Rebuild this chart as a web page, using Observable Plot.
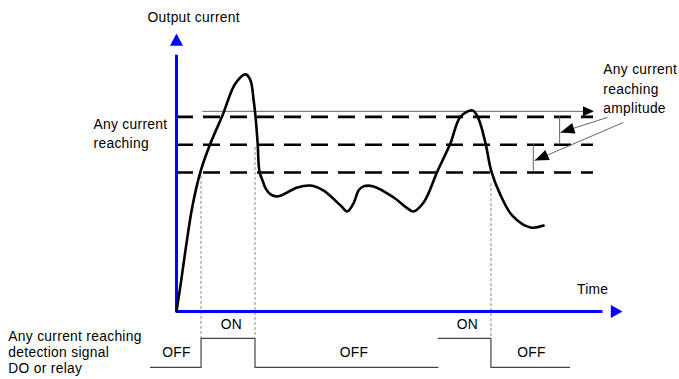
<!DOCTYPE html>
<html><head><meta charset="utf-8">
<script src="https://cdn.jsdelivr.net/npm/d3@7"></script>
<script src="https://cdn.jsdelivr.net/npm/@observablehq/plot@0.6"></script>
<style>
html,body{margin:0;padding:0;background:#fff;}
#chart svg{display:block;overflow:visible;}
</style></head><body><div id="chart"></div>
<script>
// ---- data (time units 0..100, current units 0..100) ----
const curveT = [0, 0.9, 2.0, 3.6, 5.4, 7.6, 10.3, 13.2, 15.5, 16.6, 17.3, 17.7, 18.2, 18.6, 19.3, 20.0, 21.1, 22.7, 27.1, 30.0, 33.0, 36.8, 38.3, 39.7, 40.8, 41.9, 44.2, 48.7, 51.8, 53.1, 55.4, 58.5, 61.4, 63.7, 66.4, 67.7, 69.3, 70.6, 72.7, 75.3, 79.4, 82.3];
const curveC = [0, 9.4, 21.9, 38.1, 50.4, 60.4, 70.5, 82.0, 85.3, 83.1, 75.9, 70.5, 60.4, 50.4, 47.1, 44.2, 42.1, 41.4, 44.6, 45.3, 43.5, 38.1, 36.0, 38.9, 43.5, 45.0, 45.0, 41.0, 37.1, 36.0, 39.2, 50.4, 60.4, 70.1, 72.3, 69.4, 60.4, 50.4, 41.7, 34.5, 30.2, 30.9];

const thresholdLevels = [50, 60, 70];
const thresholdEnd = 93.5;
const amplitudeLevel = 72;
const amplitudeSpan = [5.9, 93.6];

// amplitude brackets between threshold levels
const bracketT = [85.9, 80.0];
const bracketLo = [60, 50];
const bracketHi = [70, 60];

// pointer arrows from "amplitude" label
const pointerFromT = [96.6, 100.2];
const pointerFromC = [69.8, 68.0];
const pointerToT = [86.1, 80.3];
const pointerToC = [64.4, 54.3];

// dotted drop lines (crossing times)
const dropT = [5.5, 17.6, 70.5];
const dropTop = [50.4, 59.0, 46.0];
const signalHighLevel = -9.7;
const signalLowLevel = -20.1;

// detection signal segments: [time, state]
const signalA = [[-5.8, 0], [5.5, 0], [5.5, 1], [17.6, 1], [17.6, 0], [58.6, 0]];
const signalB = [[58.7, 1], [70.5, 1], [70.5, 0], [88.1, 0]];

// labels
const labelText = ["Output current", "Any current", "reaching", "Any current", "reaching", "amplitude", "Time", "ON", "ON", "OFF", "OFF", "OFF", "Any current reaching", "detection signal", "DO or relay"];
const labelT = [-6.5, -18.6, -18.6, 95.7, 95.7, 95.7, 93.3, 12.3, 65.2, 0.0, 39.8, 79.6, -37.7, -37.7, -37.7];
const labelC = [105.9, 67.4, 60.5, 87.2, 80.0, 73.1, 7.9, -4.7, -4.7, -14.9, -14.9, -14.9, -8.9, -14.6, -20.6];
const labelAnchor = ["start", "start", "start", "start", "start", "start", "middle", "middle", "middle", "middle", "middle", "middle", "start", "start", "start"];

// ---- build ----
const X = {domain: [0, 100], range: [176, 622]};
const Y = {domain: [0, 100], range: [311, 33]};
const sx = Plot.scale({x: X}), sy = Plot.scale({y: Y});
function angleOf(t1, c1, t2, c2) {
  const dx = sx.apply(t2) - sx.apply(t1), dy = sy.apply(c2) - sy.apply(c1);
  return Math.atan2(dx, -dy) * 180 / Math.PI;
}
const tri = {draw(ctx, l, r) { ctx.moveTo(-r, 0); ctx.lineTo(0, -l); ctx.lineTo(r, 0); ctx.closePath(); }};

const curve = curveT.map((t, i) => ({t, c: curveC[i]}));
const brackets = bracketT.map((t, i) => ({t, lo: bracketLo[i], hi: bracketHi[i]}));
const pointers = pointerFromT.map((t, i) => ({x1: t, y1: pointerFromC[i], x2: pointerToT[i], y2: pointerToC[i], rot: angleOf(t, pointerFromC[i], pointerToT[i], pointerToC[i])}));
const drops = dropT.map((t, i) => ({t, top: dropTop[i]}));
const signal = [...signalA.map(([t, s]) => ({t, s, seg: "A"})), ...signalB.map(([t, s]) => ({t, s, seg: "B"}))];
const labels = labelText.map((text, i) => ({text, t: labelT[i], c: labelC[i], anchor: labelAnchor[i]}));
const axisHeads = [{t: 0, c: 100, rot: 0, len: 21}, {t: 100, c: 0, rot: 90, len: 20}];
const axisLines = [{x1: 0, y1: 0, x2: 0, y2: 92.4}, {x1: 0, y1: 0, x2: 95.5, y2: 0}];

const fontStyle = {fontFamily: "'Liberation Sans', Arial, sans-serif", fontSize: "13.8px", letterSpacing: "0.3px", background: "#fff", color: "#000", overflow: "visible"};

const chart = Plot.plot({
  width: 679, height: 379, margin: 0,
  x: {...X, axis: null}, y: {...Y, axis: null},
  style: fontStyle,
  marks: [
    Plot.ruleY(thresholdLevels, {y: d => d, x1: 0, x2: thresholdEnd, stroke: "#000", strokeWidth: 2.6, strokeDasharray: "17,10"}),
    Plot.ruleY([amplitudeLevel], {y: d => d, x1: amplitudeSpan[0], x2: amplitudeSpan[1] - 2, stroke: "#666", strokeWidth: 1}),
    Plot.vector([amplitudeLevel], {x: amplitudeSpan[1], y: d => d, rotate: 90, length: 11, r: 5, anchor: "end", shape: tri, fill: "#000", stroke: "none"}),
    Plot.ruleX(brackets, {x: "t", y1: "lo", y2: "hi", stroke: "#666", strokeWidth: 1}),
    Plot.link(pointers, {x1: "x1", y1: "y1", x2: "x2", y2: "y2", stroke: "#666", strokeWidth: 1}),
    Plot.vector(pointers, {x: "x2", y: "y2", rotate: "rot", length: 14, r: 5.5, anchor: "end", shape: tri, fill: "#000", stroke: "none"}),
    Plot.ruleX(drops, {x: "t", y1: "top", y2: signalHighLevel, stroke: "#888", strokeWidth: 1, strokeDasharray: "3,2"}),
    Plot.line(signal, {x: "t", y: d => d.s ? signalHighLevel : signalLowLevel, z: "seg", stroke: "#444", strokeWidth: 1.2}),
    Plot.link(axisLines, {x1: "x1", y1: "y1", x2: "x2", y2: "y2", stroke: "#0000ff", strokeWidth: 3}),
    Plot.vector(axisHeads, {x: "t", y: "c", rotate: "rot", length: "len", r: 6.5, anchor: "end", shape: tri, fill: "#0000ff", stroke: "none"}),
    Plot.line(curve, {x: "t", y: "c", curve: "catmull-rom", stroke: "#000", strokeWidth: 2.6}),
    Plot.text(labels.filter(d => d.anchor === "start"), {x: "t", y: "c", text: "text", textAnchor: "start", lineAnchor: "middle", fill: "#000", fontSize: 13.8}),
    Plot.text(labels.filter(d => d.anchor === "middle"), {x: "t", y: "c", text: "text", textAnchor: "middle", lineAnchor: "middle", fill: "#000", fontSize: 13.8})
  ]
});
document.getElementById("chart").appendChild(chart);
</script>
</body></html>
